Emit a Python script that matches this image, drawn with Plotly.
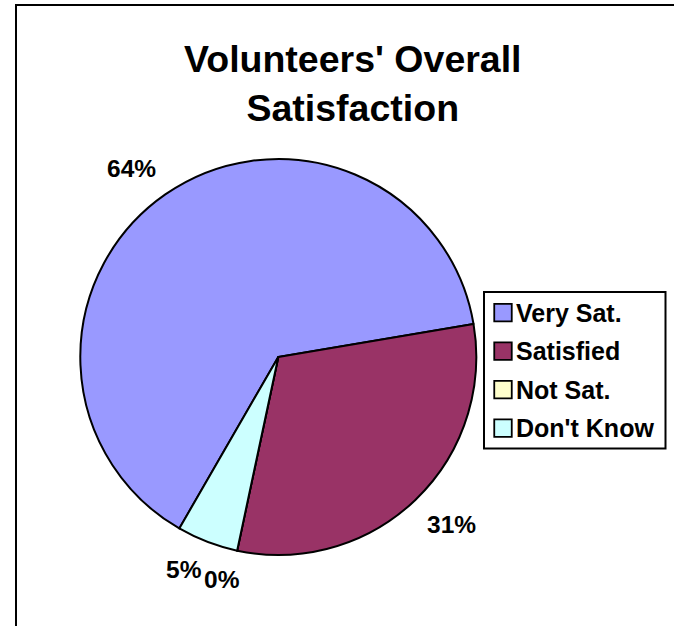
import math
import plotly.graph_objects as go

# ---- data ----
labels = ["Very Sat.", "Satisfied", "Not Sat.", "Don't Know"]
values = [64, 31, 0, 5]
colors = ["#9999FF", "#993366", "#FFFFCC", "#CCFFFF"]
title_text = "Volunteers' Overall<br>Satisfaction"

# ---- layout geometry (pixels) ----
W, H = 674, 626
cx, cy, R = 278.3, 357.0, 198.0
rotation = 210
FONT = "Liberation Sans, Arial, sans-serif"
label_fs = 24.5
legend_fs = 25
leg_box = (484, 292, 665.5, 448.5)   # x0, y0, x1, y1
leg_row0, leg_step = 312.7, 38.5
leg_sq_x, leg_sq = 503.0, 17.5
leg_text_x = 516.0


def px(x):
    return x / W


def py(y):
    return 1 - y / H


fig = go.Figure(
    go.Pie(
        labels=labels,
        values=values,
        sort=False,
        direction="clockwise",
        rotation=rotation,
        textinfo="none",
        hoverinfo="label+percent",
        marker=dict(colors=colors, line=dict(color="black", width=2)),
        domain=dict(x=[px(cx - R), px(cx + R)], y=[py(cy + R), py(cy - R)]),
        showlegend=False,
    )
)

annotations = []
shapes = []

# percentage labels placed outside each slice's mid-angle
total = sum(values)
cum = 0.0
boxes = []  # [left, right, ycenter, text, value]
for v in values:
    a0 = rotation + cum / total * 360
    a1 = a0 + v / total * 360
    cum += v
    mid = math.radians((a0 + a1) / 2)
    dx, dy = math.sin(mid), -math.cos(mid)  # screen coords (y down)
    rr = R + 17
    ex, ey = cx + dx * rr, cy + dy * rr
    text = f"{round(100 * v / total)}%"
    w = label_fs * (0.556 * (len(text) - 1) + 0.889)
    left = ex - w if dx < 0 else ex
    yc = ey - 12 if dy < 0 else ey + 12
    boxes.append([left, left + w, yc, text, v])

# simple collision avoidance: push the smaller label sideways
for i in range(len(boxes)):
    for j in range(len(boxes)):
        if i == j:
            continue
        a, b = boxes[i], boxes[j]
        if a[4] < b[4] and abs(a[2] - b[2]) < 24 and a[0] < b[1] + 3 and a[1] > b[0] - 3:
            w = a[1] - a[0]
            if (a[0] + a[1]) / 2 >= (b[0] + b[1]) / 2:
                a[0] = b[1] + 3
            else:
                a[0] = b[0] - 3 - w
            a[1] = a[0] + w

for left, right, yc, text, v in boxes:
    annotations.append(
        dict(
            x=px(left), y=py(yc), xref="paper", yref="paper",
            text=f"<b>{text}</b>", showarrow=False,
            xanchor="left", yanchor="middle",
            borderpad=0, borderwidth=0,
            font=dict(family=FONT, size=label_fs, color="black"),
        )
    )

# title
annotations.append(
    dict(
        x=px(353.4), y=py(84), xref="paper", yref="paper",
        text=f"<b>{title_text}</b>", showarrow=False,
        xanchor="center", yanchor="middle",
        font=dict(family=FONT, size=37.5, color="black"),
    )
)

# legend (box, swatches, labels)
shapes.append(dict(type="rect", xref="paper", yref="paper",
                   x0=px(leg_box[0]), x1=px(leg_box[2]),
                   y0=py(leg_box[3]), y1=py(leg_box[1]),
                   line=dict(color="black", width=2), fillcolor="white", layer="above"))
for i, (lab, col) in enumerate(zip(labels, colors)):
    yc = leg_row0 + i * leg_step
    shapes.append(dict(type="rect", xref="paper", yref="paper",
                       x0=px(leg_sq_x - leg_sq / 2), x1=px(leg_sq_x + leg_sq / 2),
                       y0=py(yc + leg_sq / 2), y1=py(yc - leg_sq / 2),
                       line=dict(color="black", width=1.8), fillcolor=col, layer="above"))
    annotations.append(dict(
        x=px(leg_text_x), y=py(yc), xref="paper", yref="paper",
        text=f"<b>{lab}</b>", showarrow=False,
        xanchor="left", yanchor="middle", borderpad=0, borderwidth=0,
        font=dict(family=FONT, size=legend_fs, color="black"),
    ))

# outer chart-area frame (left and top edges visible)
shapes.append(dict(type="path", xref="paper", yref="paper",
                   path=f"M {px(16)},-0.1 L {px(16)},{py(5)} L 1.2,{py(5)}",
                   line=dict(color="black", width=2)))

fig.update_layout(
    width=W, height=H,
    margin=dict(l=0, r=0, t=0, b=0),
    paper_bgcolor="white",
    plot_bgcolor="white",
    annotations=annotations,
    shapes=shapes,
)

fig.write_html("out.html")
